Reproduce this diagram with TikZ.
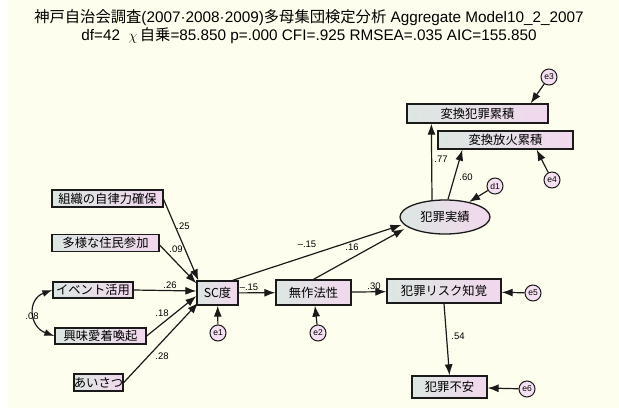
\documentclass[tikz,border=0pt]{standalone}
\usepackage{fontspec}
\setmainfont{Liberation Sans}
\newfontfamily\jp{Noto Sans CJK JP}
\usetikzlibrary{arrows.meta,calc,shapes.geometric}
\definecolor{bgc}{HTML}{FEFEEE}
\definecolor{boxl}{HTML}{DCE6E2}
\definecolor{boxr}{HTML}{F2D8EE}
\definecolor{ink}{HTML}{1A1A1A}
\tikzset{
  obs/.style={draw=ink,line width=1.3pt,left color=boxl,right color=boxr,minimum height=17pt,inner sep=0pt,font=\jp\fontsize{12.3}{12}\selectfont},
  lat/.style={ellipse,draw=ink,line width=1.3pt,left color=boxl,right color=boxr,minimum width=90pt,minimum height=34pt,inner sep=0pt,font=\jp\fontsize{12.3}{12}\selectfont},
  err/.style={circle,draw=ink,line width=1pt,fill=boxr!80!white,minimum size=16pt,inner sep=0pt,font=\fontsize{8.5}{9}\selectfont},
  path/.style={draw=ink,line width=1.2pt,-{Latex[length=11pt,width=8pt]}},
  coef/.style={font=\fontsize{9.5}{9.5}\selectfont,inner sep=0pt}
}
\begin{document}
\begin{tikzpicture}[x=1pt,y=-1pt]
\useasboundingbox (0,0) rectangle (619,408);
\fill[white] (0,0) rectangle (619,408);
\fill[bgc] (8,0) rectangle (619,408);
% title
\node (t1) at (309,18) {\fontsize{15.3}{16}\selectfont{\jp 神戸自治会調査}(2007·2008·2009){\jp 多母集団検定分析} Aggregate Model10\_2\_2007};
\node (t2) at (309,36) {\fontsize{15.3}{16}\selectfont df=42 \ $\chi$\,{\jp 自乗}=85.850 p=.000 CFI=.925 RMSEA=.035 AIC=155.850};
% observed
\node[obs,minimum width=111pt] (b1) at (107.5,198.5) {組織の自律力確保};
\node[obs,minimum width=107pt] (b2) at (105.5,243) {多様な住民参加};
\node[obs,minimum width=80pt,minimum height=16pt] (b3) at (93,290) {イベント活用};
\node[obs,minimum width=91pt,minimum height=16pt] (b4) at (100.5,336) {興味愛着喚起};
\node[obs,minimum width=47pt] (b5) at (98.5,382.5) {あいさつ};
\node[obs,minimum width=41pt,minimum height=24pt] (sc) at (217.5,293) {SC度};
\node[obs,minimum width=75pt,minimum height=25pt] (mu) at (313.5,292.5) {無作法性};
\node[obs,minimum width=114pt,minimum height=24pt] (risk) at (444,291) {犯罪リスク知覚};
\node[obs,minimum width=75pt,minimum height=22pt] (anx) at (449.5,387) {犯罪不安};
\node[obs,minimum width=141pt,minimum height=19pt] (h1) at (477.5,113.5) {変換犯罪累積};
\node[obs,minimum width=135pt,minimum height=18pt] (h2) at (505.5,140) {変換放火累積};
\node[lat] (ell) at (445,217) {犯罪実績};
% errors
\node[err] (e1) at (218,333) {e1};
\node[err] (e2) at (318,333) {e2};
\node[err] (e5) at (533,293) {e5};
\node[err] (e6) at (527,389) {e6};
\node[err] (e3) at (549,77) {e3};
\node[err] (e4) at (552,180) {e4};
\node[err] (d1) at (495,186) {d1};
% paths into SC
\draw[path] ($(b1.east)+(0,1)$) -- ($(sc.north west)+(2,0)$);
\draw[path] ($(b2.east)+(0,2)$) -- ($(sc.north west)+(0,3)$);
\draw[path] (b3.east) -- ($(sc.west)+(0,-2)$);
\draw[path] (b4.east) -- ($(sc.west)+(0,3)$);
\draw[path] (b5.east) -- ($(sc.south west)+(2,-3)$);
\draw[draw=ink,line width=1.2pt,{Latex[length=10pt,width=7pt]}-{Latex[length=10pt,width=7pt]}] (b3.west) to[out=200,in=160,looseness=1.5] (b4.west);
\draw[path] (e1) -- (sc);
\draw[path] (e2) -- (mu);
\draw[path] (sc) -- (mu);
\draw[path] ($(sc.north east)+(-6,0)$) -- ($(ell.west)+(2,8)$);
\draw[path] (mu.north) -- ($(ell.west)+(5,12)$);
\draw[path] (mu) -- (risk);
\draw[path] (risk.south) -- (anx.north);
\draw[path] (e5) -- (risk);
\draw[path] (e6) -- (anx);
\draw[path] ($(ell.north)+(-13,1)$) -- ($(h1.south west)+(25,0)$);
\draw[path] ($(ell.north)+(3,0)$) -- ($(h2.south west)+(25,0)$);
\draw[path] (d1) -- (ell);
\draw[path] (e3) -- ($(h1.north east)+(-18,0)$);
\draw[path] (e4) -- ($(h2.south east)+(-37,0)$);
% coefficients
\node[coef] (c1) at (183,226) {.25};
\node[coef] (c2) at (176,249) {.09};
\node[coef] (c3) at (170,285) {.26};
\node[coef] (c4) at (162,313) {.18};
\node[coef] (c5) at (162,356) {.28};
\node[coef] (c6) at (32,316) {.08};
\node[coef] (c7) at (249,287) {--.15};
\node[coef] (c8) at (307,244) {--.15};
\node[coef] (c9) at (352,247) {.16};
\node[coef] (c10) at (374,286) {.30};
\node[coef] (c11) at (458,336) {.54};
\node[coef] (c12) at (441,159) {.77};
\node[coef] (c13) at (466,177) {.60};
\end{tikzpicture}
\end{document}
